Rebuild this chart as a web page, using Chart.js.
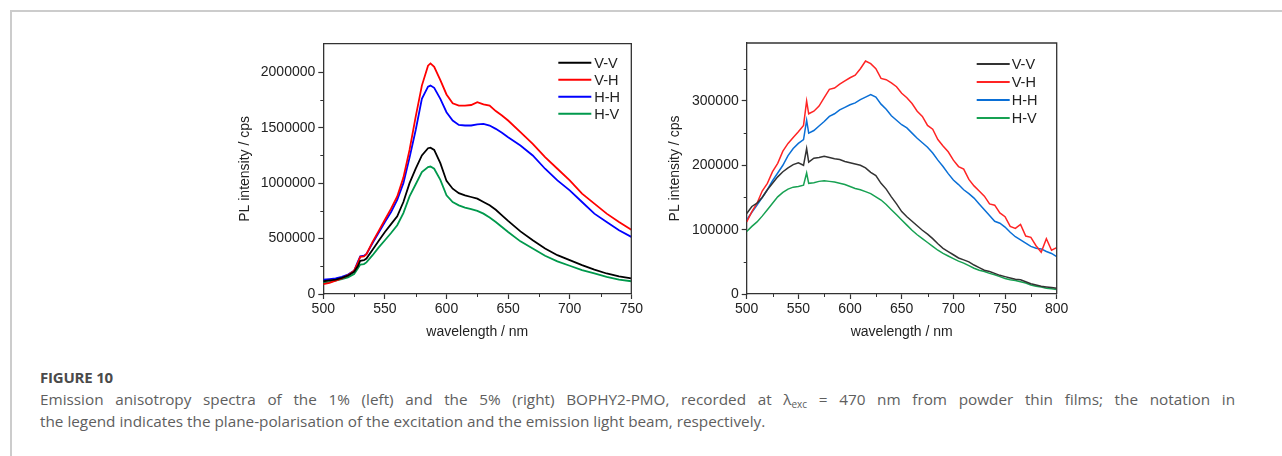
<!DOCTYPE html>
<html>
<head>
<meta charset="utf-8">
<script src="https://cdn.jsdelivr.net/npm/chart.js@4.4.1/dist/chart.umd.min.js"></script>
<style>
  html, body { margin: 0; padding: 0; background: #fff; }
  body { width: 1282px; height: 456px; position: relative; overflow: hidden; }
  .frame { position: absolute; left: 10px; top: 10px; width: 1280px; height: 460px;
           border-left: 2px solid #cccccc; border-top: 2px solid #cccccc; }
  canvas { position: absolute; }
  #leftChart { left: 225px; top: 30px; }
  #rightChart { left: 660px; top: 30px; }
  .caption { position: absolute; left: 40px; top: 366px; width: 1195px; font-family: "Open Sans", sans-serif;
             color: #5e5e5e; font-size: 15.3px; line-height: 22px; white-space: nowrap; }
  .caption b { display: block; color: #4a4a4a; font-weight: 700; font-size: 15px; letter-spacing: -0.2px; }
  .caption .l1 { display: block; text-align: justify; text-align-last: justify; }
  .caption .l2 { display: block; }
  .caption sub { font-size: 10px; vertical-align: -3px; line-height: 0; }
</style>
</head>
<body>
<div class="frame"></div>
<canvas id="leftChart" width="420" height="320"></canvas>
<canvas id="rightChart" width="420" height="320"></canvas>
<div class="caption">
  <b>FIGURE 10</b>
  <span class="l1">Emission anisotropy spectra of the 1% (left) and the 5% (right) BOPHY2-PMO, recorded at λ<sub>exc</sub> = 470 nm from powder thin films; the notation in</span>
  <span class="l2">the legend indicates the plane-polarisation of the excitation and the emission light beam, respectively.</span>
</div>
<script>
// ---- left panel (1%) ----
const leftWavelengths = [500, 505, 510, 515, 520, 525, 528, 530, 533, 535, 540, 545, 550, 555, 560, 565, 570, 575, 580, 585, 587, 590, 595, 600, 605, 610, 615, 620, 625, 630, 635, 640, 645, 650, 660, 670, 680, 690, 700, 710, 720, 730, 740, 750];
const leftVV = [115000, 122000, 130000, 145000, 165000, 200000, 250000, 300000, 305000, 320000, 400000, 480000, 560000, 630000, 700000, 830000, 1000000, 1130000, 1250000, 1315000, 1320000, 1300000, 1180000, 1020000, 950000, 910000, 890000, 875000, 860000, 830000, 800000, 760000, 710000, 660000, 565000, 485000, 410000, 350000, 305000, 260000, 220000, 185000, 160000, 140000];
const leftVH = [90000, 100000, 120000, 140000, 170000, 210000, 280000, 335000, 340000, 360000, 470000, 570000, 670000, 770000, 880000, 1050000, 1300000, 1600000, 1880000, 2060000, 2080000, 2050000, 1930000, 1800000, 1720000, 1700000, 1700000, 1705000, 1730000, 1710000, 1700000, 1650000, 1610000, 1565000, 1460000, 1355000, 1235000, 1130000, 1025000, 905000, 815000, 725000, 650000, 580000];
const leftHH = [130000, 135000, 140000, 155000, 175000, 210000, 290000, 340000, 345000, 360000, 460000, 555000, 650000, 740000, 850000, 1000000, 1230000, 1480000, 1760000, 1870000, 1880000, 1860000, 1760000, 1640000, 1565000, 1525000, 1520000, 1520000, 1530000, 1535000, 1520000, 1490000, 1455000, 1415000, 1340000, 1250000, 1130000, 1025000, 935000, 830000, 725000, 650000, 575000, 515000];
const leftHV = [105000, 110000, 120000, 135000, 150000, 180000, 230000, 265000, 270000, 285000, 350000, 420000, 485000, 550000, 620000, 730000, 880000, 990000, 1100000, 1145000, 1150000, 1130000, 1030000, 890000, 830000, 800000, 780000, 765000, 750000, 725000, 690000, 650000, 605000, 560000, 475000, 410000, 345000, 295000, 255000, 215000, 185000, 155000, 130000, 115000];
const leftXTicks = [500, 550, 600, 650, 700, 750];
const leftXMinor = [525, 575, 625, 675, 725];
const leftYTicks = [0, 500000, 1000000, 1500000, 2000000];
const leftYMinor = [250000, 750000, 1250000, 1750000];

// ---- right panel (5%) ----
const rightWavelengths = [500, 505, 510, 515, 520, 525, 530, 535, 540, 545, 550, 555, 558, 560, 565, 570, 575, 580, 585, 590, 595, 600, 605, 610, 615, 620, 625, 630, 635, 640, 645, 650, 655, 660, 665, 670, 675, 680, 685, 690, 695, 700, 705, 710, 715, 720, 725, 730, 735, 740, 745, 750, 755, 760, 765, 770, 775, 780, 785, 790, 795, 800];
const rightVV = [125000, 136000, 141000, 150000, 162000, 172000, 182000, 190000, 196000, 201000, 204000, 200000, 226000, 205000, 211000, 212000, 214000, 212000, 210000, 209000, 206000, 204000, 202000, 200000, 196000, 189000, 184000, 172000, 163000, 151000, 140000, 128000, 120000, 113000, 106000, 99000, 93000, 86000, 78000, 71000, 66000, 61000, 56000, 53000, 50000, 45000, 41000, 37000, 35000, 32000, 29000, 27000, 25000, 23000, 22000, 19000, 16000, 14000, 12000, 11000, 10000, 9000];
const rightVH = [112000, 128000, 141000, 160000, 172000, 190000, 203000, 222000, 234000, 243000, 252000, 262000, 300000, 280000, 284000, 292000, 305000, 318000, 320000, 326000, 331000, 336000, 340000, 350000, 362000, 358000, 350000, 335000, 333000, 328000, 322000, 312000, 305000, 296000, 284000, 276000, 262000, 256000, 240000, 230000, 221000, 208000, 198000, 194000, 178000, 168000, 160000, 152000, 140000, 138000, 126000, 120000, 105000, 102000, 108000, 90000, 88000, 75000, 65000, 86000, 68000, 72000];
const rightHH = [115000, 127000, 138000, 150000, 162000, 176000, 188000, 200000, 215000, 226000, 234000, 240000, 270000, 250000, 254000, 261000, 268000, 276000, 280000, 286000, 290000, 294000, 297000, 302000, 306000, 310000, 306000, 295000, 287000, 277000, 270000, 263000, 258000, 250000, 242000, 235000, 228000, 219000, 208000, 198000, 187000, 177000, 170000, 162000, 156000, 149000, 140000, 131000, 122000, 113000, 110000, 104000, 96000, 89000, 84000, 79000, 74000, 71000, 70000, 66000, 63000, 58000];
const rightHV = [97000, 105000, 112000, 121000, 131000, 141000, 151000, 158000, 163000, 166000, 167000, 169000, 188000, 172000, 173000, 175000, 176000, 175000, 174000, 172000, 170000, 167000, 164000, 162000, 159000, 156000, 151000, 146000, 139000, 131000, 123000, 115000, 107000, 99000, 92000, 86000, 80000, 74000, 68000, 63000, 59000, 55000, 51000, 48000, 44000, 40000, 37000, 35000, 32000, 30000, 27000, 24000, 22000, 21000, 19000, 17000, 14000, 12000, 11000, 9000, 8000, 7000];
const rightXTicks = [500, 550, 600, 650, 700, 750, 800];
const rightXMinor = [525, 575, 625, 675, 725, 775];
const rightYTicks = [0, 100000, 200000, 300000];
const rightYMinor = [50000, 150000, 250000, 350000];

const seriesLabels = ['V-V', 'V-H', 'H-H', 'H-V'];

const axisFont = { family: 'Arial, "Liberation Sans", sans-serif', size: 14 };
const axisColor = '#333333';

function pairs(xs, ys) {
    return xs.map((x, i) => ({ x: x, y: ys[i] }));
}

// box around the plot, minor ticks and the legend inside the plot
const decorPlugin = {
    id: 'decor',
    afterDraw(chart, args, opts) {
        const ctx = chart.ctx;
        const a = chart.chartArea;
        const xs = chart.scales.x, ys = chart.scales.y;
        ctx.save();
        ctx.strokeStyle = axisColor;
        ctx.lineWidth = 1.3;
        ctx.beginPath();
        ctx.moveTo(a.left, a.top);
        ctx.lineTo(a.right, a.top);
        ctx.lineTo(a.right, a.bottom);
        ctx.stroke();
        // minor ticks
        ctx.lineWidth = 1;
        ctx.beginPath();
        opts.xMinor.forEach(v => {
            const px = Math.round(xs.getPixelForValue(v)) + 0.5;
            ctx.moveTo(px, a.bottom);
            ctx.lineTo(px, a.bottom + 3);
        });
        opts.yMinor.forEach(v => {
            const py = Math.round(ys.getPixelForValue(v)) + 0.5;
            ctx.moveTo(a.left, py);
            ctx.lineTo(a.left - 3, py);
        });
        ctx.stroke();
        // legend
        ctx.font = '14.5px Arial, "Liberation Sans", sans-serif';
        ctx.textBaseline = 'middle';
        ctx.textAlign = 'left';
        chart.data.datasets.forEach((ds, i) => {
            const y = a.top + opts.first + i * opts.step;
            ctx.strokeStyle = ds.borderColor;
            ctx.lineWidth = 2;
            ctx.beginPath();
            ctx.moveTo(a.right - opts.lineStart, y);
            ctx.lineTo(a.right - opts.lineEnd, y);
            ctx.stroke();
            ctx.fillStyle = '#222';
            ctx.fillText(ds.label, a.right - opts.textAt, y + 1);
        });
        ctx.restore();
    }
};

function makeChart(id, cfg) {
    const ctx = document.getElementById(id).getContext('2d');
    return new Chart(ctx, {
        type: 'line',
        data: {
            datasets: cfg.series.map((s, i) => ({
                label: seriesLabels[i],
                data: pairs(cfg.wavelengths, s),
                borderColor: cfg.colors[i],
                borderWidth: cfg.lineWidth,
                pointRadius: 0,
                tension: 0,
            })),
        },
        options: {
            responsive: false,
            animation: false,
            devicePixelRatio: 1,
            layout: { padding: cfg.padding },
            plugins: {
                legend: { display: false },
                tooltip: { enabled: false },
                decor: cfg.decor,
            },
            scales: {
                x: {
                    type: 'linear',
                    min: cfg.xTicks[0],
                    max: cfg.xTicks[cfg.xTicks.length - 1],
                    afterBuildTicks: (scale) => { scale.ticks = cfg.xTicks.map(v => ({ value: v })); },
                    afterFit: (scale) => { scale.height = 50; },
                    ticks: { font: axisFont, color: '#222', padding: 2, maxRotation: 0, callback: (v) => String(v) },
                    grid: { drawOnChartArea: false, drawTicks: true, tickLength: 5, color: axisColor, tickWidth: 1.2 },
                    border: { color: axisColor, width: 1.3 },
                    title: { display: true, text: 'wavelength / nm', font: axisFont, color: '#222', padding: { top: 0, bottom: 3 } },
                },
                y: {
                    type: 'linear',
                    min: 0,
                    max: cfg.yMax,
                    afterBuildTicks: (scale) => { scale.ticks = cfg.yTicks.map(v => ({ value: v })); },
                    afterFit: (scale) => { scale.width = cfg.yWidth; },
                    ticks: { font: axisFont, color: '#222', padding: 3, callback: (v) => String(v) },
                    grid: { drawOnChartArea: false, drawTicks: true, tickLength: 5, color: axisColor, tickWidth: 1.2 },
                    border: { color: axisColor, width: 1.3 },
                    title: { display: true, text: 'PL intensity / cps', font: axisFont, color: '#222', padding: { top: cfg.yTitlePad, bottom: 0 } },
                },
            },
        },
        plugins: [decorPlugin],
    });
}

makeChart('leftChart', {
    wavelengths: leftWavelengths,
    series: [leftVV, leftVH, leftHH, leftHV],
    colors: ['#000000', '#ff0000', '#0000ff', '#00994c'],
    lineWidth: 1.8,
    xTicks: leftXTicks,
    yTicks: leftYTicks,
    yMax: 2258000,
    yWidth: 98.3,
    yTitlePad: 11.6,
    padding: { top: 13.7, right: 11.7, bottom: 6, left: 0 },
    decor: { xMinor: leftXMinor, yMinor: leftYMinor, first: 19, step: 17, lineStart: 73, lineEnd: 40, textAt: 37 },
});

makeChart('rightChart', {
    wavelengths: rightWavelengths,
    series: [rightVV, rightVH, rightHH, rightHV],
    colors: ['#333333', '#ff2424', '#0a6fd6', '#17a152'],
    lineWidth: 1.5,
    xTicks: rightXTicks,
    yTicks: rightYTicks,
    yMax: 390000,
    yWidth: 86.7,
    yTitlePad: 6.6,
    padding: { top: 13, right: 23.3, bottom: 6, left: 0 },
    decor: { xMinor: rightXMinor, yMinor: rightYMinor, first: 21, step: 18, lineStart: 80, lineEnd: 47, textAt: 45 },
});
</script>
</body>
</html>
